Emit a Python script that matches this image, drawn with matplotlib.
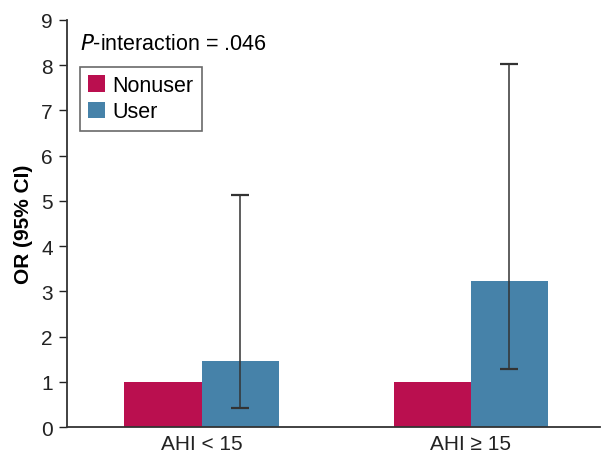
import numpy as np
import matplotlib.pyplot as plt

plt.rcParams['font.family'] = ['Liberation Sans', 'DejaVu Sans']

groups = ['AHI < 15', 'AHI \u2265 15']
series = ['Nonuser', 'User']
nonuser_or = [1.0, 1.0]
user_or = [1.45, 3.22]
user_ci_low = [0.42, 1.28]
user_ci_high = [5.13, 8.02]
colors = ['#BA0F4F', '#4682A9']

fig = plt.figure(figsize=(6.02, 4.56), dpi=100)
ax = fig.add_axes([0.111, 0.0614, 0.886, 0.8926])

x = np.arange(len(groups))
width = 0.286
ax.bar(x - width / 2, nonuser_or, width, color=colors[0], label=series[0])
ax.bar(x + width / 2, user_or, width, color=colors[1], label=series[1])

yerr = [np.array(user_or) - np.array(user_ci_low), np.array(user_ci_high) - np.array(user_or)]
ax.errorbar(x + width / 2, user_or, yerr=yerr, fmt='none', ecolor='#333333',
            elinewidth=1.1, capsize=6.5, capthick=1.6)

ax.set_xlim(-0.5, 1.48)
ax.set_ylim(0, 9)
ax.set_yticks(range(0, 10))
ax.set_xticks(x)
ax.set_xticklabels(groups)
ax.tick_params(axis='x', length=0, labelsize=15, pad=5, colors='#222222')
ax.tick_params(axis='y', length=6, labelsize=15, colors='#222222', width=1, pad=4)
for s in ['top', 'right']:
    ax.spines[s].set_visible(False)
for s in ['left', 'bottom']:
    ax.spines[s].set_color('#333333')
    ax.spines[s].set_linewidth(1.3)
ax.set_ylabel('OR (95% CI)', fontsize=15, fontweight='bold', labelpad=6)

ax.text(0.024, 0.941, r'$\it{P}$-interaction = .046', transform=ax.transAxes,
        fontsize=15.5, va='center', ha='left')

leg = ax.legend(loc='upper left', bbox_to_anchor=(0.024, 0.885), fontsize=15.5,
                handlelength=0.8, handleheight=0.8, handletextpad=0.35,
                borderpad=0.38, labelspacing=0.25, fancybox=False, frameon=True,
                edgecolor='#444444', borderaxespad=0)
leg.get_frame().set_linewidth(1.2)

fig.savefig('out.png', dpi=100)
